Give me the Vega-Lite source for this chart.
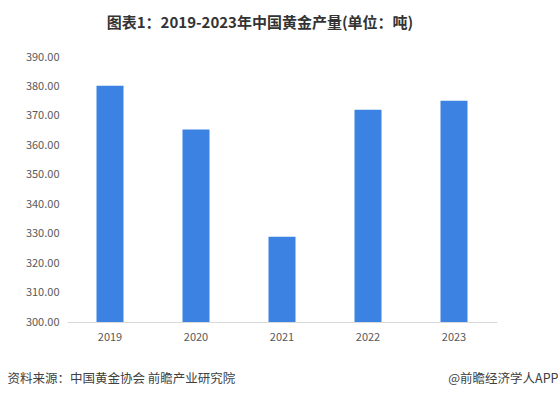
{
  "$schema": "https://vega.github.io/schema/vega-lite/v6.json",
  "width": 430,
  "height": 265,
  "autosize": "none",
  "padding": {"left": 67, "top": 57, "right": 61, "bottom": 76},
  "background": "white",
  "title": {
    "text": "图表1：2019-2023年中国黄金产量(单位：吨)",
    "font": "Noto Sans CJK SC",
    "fontSize": 15,
    "fontWeight": "bold",
    "color": "#333333",
    "anchor": "middle",
    "dx": -22,
    "offset": 20
  },
  "config": {
    "view": {"stroke": null},
    "font": "Noto Sans CJK SC"
  },
  "data": {
    "values": [
      {"year": "2019", "value": 380.23},
      {"year": "2020", "value": 365.34},
      {"year": "2021", "value": 328.98},
      {"year": "2022", "value": 372.05},
      {"year": "2023", "value": 375.16}
    ]
  },
  "mark": {"type": "bar", "color": "#3b82e3", "clip": true},
  "encoding": {
    "x": {
      "field": "year",
      "type": "ordinal",
      "scale": {"paddingInner": 0.686, "paddingOuter": 0.343},
      "axis": {
        "title": "@前瞻经济学人APP",
        "titleFont": "Noto Sans CJK SC",
        "titleFontSize": 12.5,
        "titleFontWeight": "normal",
        "titleColor": "#404040",
        "titleAnchor": "end",
        "titleAlign": "right",
        "titleX": 491,
        "titleY": 56,
        "titleBaseline": "middle",
        "labelAngle": 0,
        "labelFont": "Noto Sans CJK SC",
        "labelFontSize": 11,
        "labelColor": "#595959",
        "labelPadding": 9,
        "ticks": false,
        "domainColor": "#d9d9d9",
        "domainWidth": 1
      }
    },
    "y": {
      "field": "value",
      "type": "quantitative",
      "scale": {"domain": [300, 390], "zero": false, "nice": false},
      "axis": {
        "title": "资料来源：中国黄金协会 前瞻产业研究院",
        "titleFont": "Noto Sans CJK SC",
        "titleFontSize": 12.5,
        "titleFontWeight": "normal",
        "titleColor": "#404040",
        "titleAngle": 0,
        "titleAlign": "left",
        "titleBaseline": "middle",
        "titleX": -60,
        "titleY": 321,
        "values": [300, 310, 320, 330, 340, 350, 360, 370, 380, 390],
        "format": ".2f",
        "labelFont": "Noto Sans CJK SC",
        "labelFontSize": 11,
        "labelColor": "#595959",
        "labelPadding": 8,
        "ticks": false,
        "domain": false,
        "grid": false
      }
    }
  }
}
